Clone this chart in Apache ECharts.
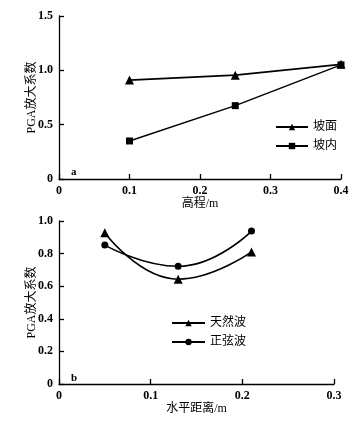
<!DOCTYPE html>
<html><head><meta charset="utf-8">
<script src="https://cdn.jsdelivr.net/npm/echarts@6/dist/echarts.min.js"></script>
<style>html,body{margin:0;padding:0;background:#fff}#c{width:356px;height:424px}</style>
</head><body><div id="c"></div>
<script>
// Panel a
const elevA = [0.1, 0.25, 0.4];
const slopeFace = [0.91, 0.955, 1.055];
const slopeInner = [0.35, 0.675, 1.05];
// Panel b
const distB = [0.05, 0.13, 0.21];
const naturalWave = [0.928, 0.643, 0.81];
const sineWave = [0.852, 0.722, 0.938];

const nameA1 = '坡面', nameA2 = '坡内', nameB1 = '天然波', nameB2 = '正弦波';
const serif = '"Liberation Serif","Noto Sans CJK SC",serif';
const numLabel = {color:'#000', fontFamily:serif, fontWeight:'bold', fontSize:12,
  formatter: v => v === 0 ? '0' : (+v).toFixed(1)};
const axLine = {show:true, lineStyle:{color:'#000', width:1.3}};
const axTick = {show:true, inside:true, length:5, lineStyle:{color:'#000', width:1.3}};
const nameStyle = {color:'#000', fontFamily:serif, fontSize:12};

function pairs(xs, ys){ return xs.map((x,i)=>[x, ys[i]]); }

const chart = echarts.init(document.getElementById('c'));
chart.setOption({
  animation:false,
  title:[
    {text:'a', left:66, top:162, textStyle:{fontFamily:serif, fontWeight:'bold', fontSize:11, color:'#000'}},
    {text:'b', left:66, top:368, textStyle:{fontFamily:serif, fontWeight:'bold', fontSize:11, color:'#000'}}
  ],
  grid:[
    {left:59, right:15, top:16, height:163},
    {left:59, right:22, top:221, height:163}
  ],
  xAxis:[
    {gridIndex:0, type:'value', min:0, max:0.4, interval:0.1, name:'高程/m', nameLocation:'middle', nameGap:19,
     nameTextStyle:nameStyle, axisLine:axLine, axisTick:axTick, splitLine:{show:false}, axisLabel:Object.assign({margin:6}, numLabel)},
    {gridIndex:1, type:'value', min:0, max:0.3, interval:0.1, name:'水平距离/m', nameLocation:'middle', nameGap:19,
     nameTextStyle:nameStyle, axisLine:axLine, axisTick:axTick, splitLine:{show:false}, axisLabel:Object.assign({margin:6}, numLabel)}
  ],
  yAxis:[
    {gridIndex:0, type:'value', min:0, max:1.5, interval:0.5, name:'PGA放大系数', nameLocation:'middle', nameGap:21, nameMoveOverlap:false,
     nameTextStyle:nameStyle, axisLine:axLine, axisTick:axTick, splitLine:{show:false}, axisLabel:Object.assign({margin:6}, numLabel)},
    {gridIndex:1, type:'value', min:0, max:1.0, interval:0.2, name:'PGA放大系数', nameLocation:'middle', nameGap:21, nameMoveOverlap:false,
     nameTextStyle:nameStyle, axisLine:axLine, axisTick:axTick, splitLine:{show:false}, axisLabel:Object.assign({margin:6}, numLabel)}
  ],
  legend:[
    {data:[nameA1, nameA2], orient:'vertical', left:270, top:116, itemWidth:32, itemHeight:8, itemGap:7,
     textStyle:{color:'#000', fontFamily:serif, fontSize:12}},
    {data:[nameB1, nameB2], orient:'vertical', left:166, top:312, itemWidth:33, itemHeight:8, itemGap:7,
     textStyle:{color:'#000', fontFamily:serif, fontSize:12}}
  ],
  series:[
    {name:nameA1, type:'line', xAxisIndex:0, yAxisIndex:0, data:pairs(elevA, slopeFace),
     symbol:'triangle', symbolSize:9, itemStyle:{color:'#000'}, lineStyle:{color:'#000', width:1.8}},
    {name:nameA2, type:'line', xAxisIndex:0, yAxisIndex:0, data:pairs(elevA, slopeInner),
     symbol:'rect', symbolSize:7, itemStyle:{color:'#000'}, lineStyle:{color:'#000', width:1.5}},
    {name:nameB1, type:'line', xAxisIndex:1, yAxisIndex:1, data:pairs(distB, naturalWave), smooth:0.5,
     symbol:'triangle', symbolSize:9, itemStyle:{color:'#000'}, lineStyle:{color:'#000', width:1.6}},
    {name:nameB2, type:'line', xAxisIndex:1, yAxisIndex:1, data:pairs(distB, sineWave), smooth:0.5,
     symbol:'circle', symbolSize:7, itemStyle:{color:'#000'}, lineStyle:{color:'#000', width:1.6}}
  ]
});
</script></body></html>
